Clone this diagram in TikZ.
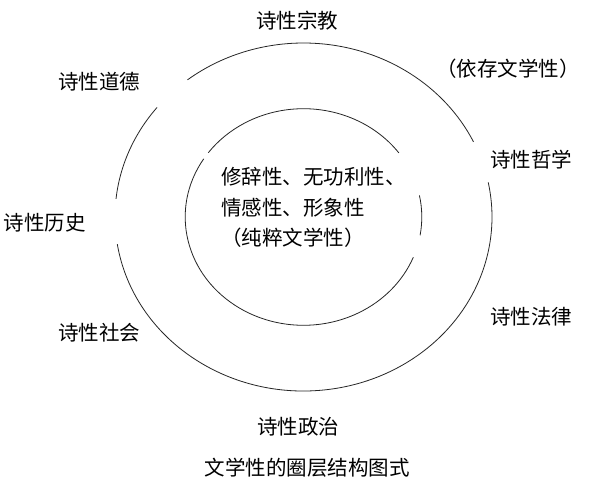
\documentclass[tikz,border=0pt]{standalone}
\usepackage{fontspec}
\setmainfont{Noto Sans CJK SC}
\begin{document}
\begin{tikzpicture}[x=1pt,y=1pt,
  lbl/.style={inner sep=0pt,anchor=base,font=\fontsize{20.5pt}{24pt}\selectfont},
  ctxt/.style={inner sep=0pt,anchor=base west,font=\fontsize{20.5pt}{24pt}\selectfont},
  ring/.style={line width=0.8pt,draw=black!85}]
\useasboundingbox (0,0) rectangle (592,488);
\fill[white] (0,0) rectangle (592,488);
\coordinate (c) at (303.5,271);
% outer ellipse (with gaps)
\draw[ring] ([shift={(25.6:188.5pt and 174pt)}]c) arc[start angle=25.6,end angle=128,x radius=188.5pt,y radius=174pt];
\draw[ring] ([shift={(141:188.5pt and 174pt)}]c) arc[start angle=141,end angle=174,x radius=188.5pt,y radius=174pt];
\draw[ring] ([shift={(189:188.5pt and 174pt)}]c) arc[start angle=189,end angle=371.5,x radius=188.5pt,y radius=174pt];
% inner ellipse (with gaps)
\draw[ring] ([shift={(36.3:118.3pt and 108.3pt)}]c) arc[start angle=36.3,end angle=143.6,x radius=118.3pt,y radius=108.3pt];
\draw[ring] ([shift={(147.5:118.3pt and 108.3pt)}]c) arc[start angle=147.5,end angle=338.2,x radius=118.3pt,y radius=108.3pt];
\draw[ring] ([shift={(350.3:118.3pt and 108.3pt)}]c) arc[start angle=350.3,end angle=371.5,x radius=118.3pt,y radius=108.3pt];
% labels
\node[lbl] (zj) at (297,459.4) {诗性宗教};
\node[lbl] (yc) at (508,411.4) {（依存文学性）};
\node[lbl] (dd) at (99,398.4) {诗性道德};
\node[lbl] (zx) at (531,320.4) {诗性哲学};
\node[lbl] (ls) at (45,257.4) {诗性历史};
\node[lbl] (fl) at (531,163.4) {诗性法律};
\node[lbl] (sh) at (99,147.4) {诗性社会};
\node[lbl] (zz) at (298,53.4) {诗性政治};
\node[lbl] (cap) at (307,12.4) {文学性的圈层结构图式};
% centre text
\node[ctxt] (l1) at (221,303.2) {修辞性、无功利性、};
\node[ctxt] (l2) at (221,272.2) {情感性、形象性};
\node[ctxt] (l3) at (221,242.2) {（纯粹文学性）};
\end{tikzpicture}
\end{document}
